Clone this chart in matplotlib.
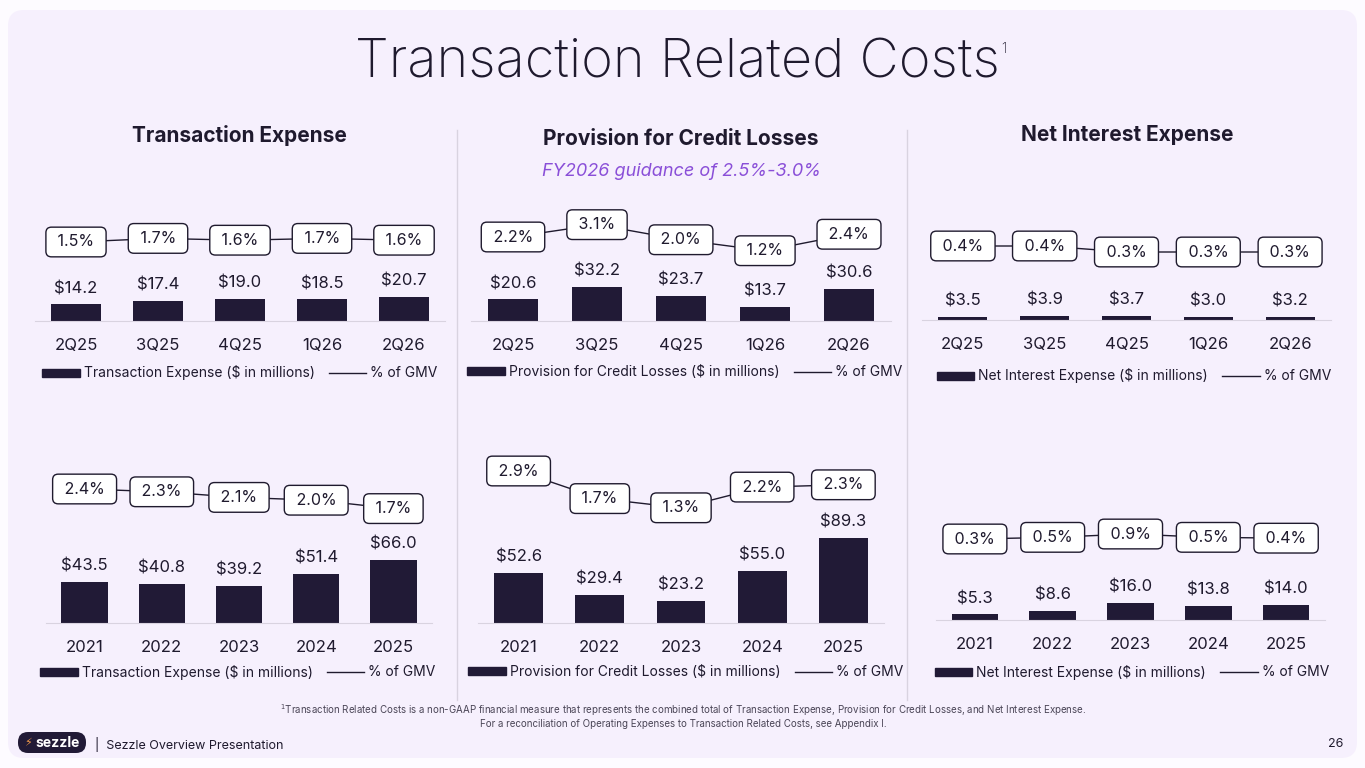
import matplotlib.pyplot as plt
import matplotlib.patches as mpatches
from matplotlib.lines import Line2D
from matplotlib.transforms import IdentityTransform

W, H = 1365, 768
DARK = '#1f1a2e'
BAR = '#211a36'
CARD = '#f6f0fd'
GRID = '#d9d3e0'
PURPLE = '#8a4fd8'

plt.rcParams['font.family'] = ['Inter', 'DejaVu Sans']

quarters = ['2Q25', '3Q25', '4Q25', '1Q26', '2Q26']
years = ['2021', '2022', '2023', '2024', '2025']

txn_q = [14.2, 17.4, 19.0, 18.5, 20.7]
txn_q_pct = [1.5, 1.7, 1.6, 1.7, 1.6]
pcl_q = [20.6, 32.2, 23.7, 13.7, 30.6]
pcl_q_pct = [2.2, 3.1, 2.0, 1.2, 2.4]
nie_q = [3.5, 3.9, 3.7, 3.0, 3.2]
nie_q_pct = [0.4, 0.4, 0.3, 0.3, 0.3]

txn_y = [43.5, 40.8, 39.2, 51.4, 66.0]
txn_y_pct = [2.4, 2.3, 2.1, 2.0, 1.7]
pcl_y = [52.6, 29.4, 23.2, 55.0, 89.3]
pcl_y_pct = [2.9, 1.7, 1.3, 2.2, 2.3]
nie_y = [5.3, 8.6, 16.0, 13.8, 14.0]
nie_y_pct = [0.3, 0.5, 0.9, 0.5, 0.4]

titles = ['Transaction Expense', 'Provision for Credit Losses', 'Net Interest Expense']
legend_labels = ['Transaction Expense ($ in millions)',
                 'Provision for Credit Losses ($ in millions)',
                 'Net Interest Expense ($ in millions)']

fig = plt.figure(figsize=(W / 100, H / 100), dpi=100)
fig.patch.set_facecolor('#fdfbff')
card = mpatches.FancyBboxPatch((8, 10), W - 16, H - 20,
                               boxstyle='round,pad=0,rounding_size=16',
                               fc=CARD, ec='none', zorder=-5,
                               transform=IdentityTransform(), figure=fig)
fig.patches.append(card)


def px(x, y):
    return x / W, 1 - y / H


# layout: x0, x1, top, baseline (px), px per $M, pct ref value, pct ref y, px per %, legend center x, y
def panel(cats, vals, pcts, label, lay):
    x0, x1, top, base, bscale, pref, pref_y, pscale, lx, ly = lay
    ax = fig.add_axes([x0 / W, 1 - base / H, (x1 - x0) / W, (base - top) / H])
    ax.patch.set_alpha(0)
    idx = list(range(len(cats)))
    ax.bar(idx, vals, width=0.6, color=BAR, zorder=2)
    ax.set_xlim(-0.5, len(cats) - 0.5)
    ax.set_ylim(0, (base - top) / bscale)
    for i, v in zip(idx, vals):
        ax.annotate(f'${v:.1f}', (i, v), xytext=(0, 6), textcoords='offset points',
                    ha='center', va='bottom', fontsize=12, color=DARK)
    ax.set_xticks(idx, cats)
    ax.tick_params(length=0, pad=12, labelsize=12, colors=DARK)
    ax.set_yticks([])
    for s in ['top', 'left', 'right']:
        ax.spines[s].set_visible(False)
    ax.spines['bottom'].set_color(GRID)
    ax2 = ax.twinx()
    ax2.set_ylim(pref - (base - pref_y) / pscale, pref + (pref_y - top) / pscale)
    ax2.plot(idx, pcts, color=DARK, lw=1, zorder=1)
    for i, p in zip(idx, pcts):
        ax2.text(i, p, f' {p:.1f}% ', ha='center', va='center', fontsize=11.5, color=DARK, zorder=3,
                 bbox=dict(boxstyle='round,pad=0.46,rounding_size=0.35', fc='white', ec=DARK, lw=1))
    ax2.axis('off')
    handles = [mpatches.Patch(color=BAR), Line2D([], [], color=DARK, lw=1)]
    ax.legend(handles, [label, '% of GMV'], ncol=2, loc='center', frameon=False,
              bbox_to_anchor=px(lx, ly), bbox_transform=fig.transFigure,
              fontsize=10, handlelength=2.7, handleheight=0.5, handletextpad=0.3,
              columnspacing=1.0, labelcolor=DARK)


panel(quarters, txn_q, txn_q_pct, legend_labels[0], (35, 445, 195, 321, 1.17, 1.5, 242, 18, 240, 373))
panel(quarters, pcl_q, pcl_q_pct, legend_labels[1], (471, 891, 195, 321, 1.05, 2.2, 237, 13.7, 685, 372))
panel(quarters, nie_q, nie_q_pct, legend_labels[2], (922, 1331, 195, 320, 1.0, 0.4, 246, 60, 1134, 376))
panel(years, txn_y, txn_y_pct, legend_labels[0], (46, 432, 455, 623, 0.95, 2.4, 489, 28, 238, 672))
panel(years, pcl_y, pcl_y_pct, legend_labels[1], (478, 884, 455, 623, 0.95, 2.9, 471, 23, 686, 672))
panel(years, nie_y, nie_y_pct, legend_labels[2], (936, 1325, 455, 620, 1.05, 0.3, 539, 8.3, 1132, 672))

# separators
for sx in [457, 907]:
    fig.add_artist(Line2D([sx / W, sx / W], [1 - 130 / H, 1 - 700 / H], color=GRID, lw=1))

# titles
t = fig.text(*px(677, 63), 'Transaction Related Costs', ha='center', va='center',
             fontsize=39, fontweight='light', color=DARK)
fig.canvas.draw()
bb = t.get_window_extent()
fig.text((bb.x1 + 2) / W, 1 - 42 / H, '1', ha='left', va='top', fontsize=10,
         fontweight='light', color=DARK)

for cx, cy, s in zip([239, 681, 1127], [135, 139, 135], titles):
    fig.text(*px(cx, cy), s, ha='center', va='center', fontsize=15, fontweight='bold', color=DARK)
fig.text(*px(681, 171), 'FY2026 guidance of 2.5%-3.0%', ha='center', va='center',
         fontsize=13, style='italic', color=PURPLE)

# footnote
fig.text(*px(683, 710), '$^1$Transaction Related Costs is a non-GAAP financial measure that represents the combined total of '
         'Transaction Expense, Provision for Credit Losses, and Net Interest Expense.',
         ha='center', va='center', fontsize=7, color='#4a4556')
fig.text(*px(683, 724), 'For a reconciliation of Operating Expenses to Transaction Related Costs, see Appendix I.',
         ha='center', va='center', fontsize=7, color='#4a4556')

# footer
fig.patches.append(mpatches.FancyBboxPatch((18, H - 753), 68, 21,
                                           boxstyle='round,pad=0,rounding_size=10',
                                           fc=BAR, ec='none', zorder=-4,
                                           transform=IdentityTransform(), figure=fig))
fig.text(*px(28, 743), '\u26a1', ha='center', va='center', fontsize=8, color='#f39a4a',
         family='DejaVu Sans')
fig.text(*px(58, 743), 'sezzle', ha='center', va='center', fontsize=10, fontweight='bold', color='white')
fig.text(*px(95, 744), '|  Sezzle Overview Presentation', ha='left', va='center', fontsize=9, color=DARK)
fig.text(*px(1343, 744), '26', ha='right', va='center', fontsize=9, color=DARK)

fig.savefig('out.png', dpi=100, facecolor=fig.get_facecolor())
